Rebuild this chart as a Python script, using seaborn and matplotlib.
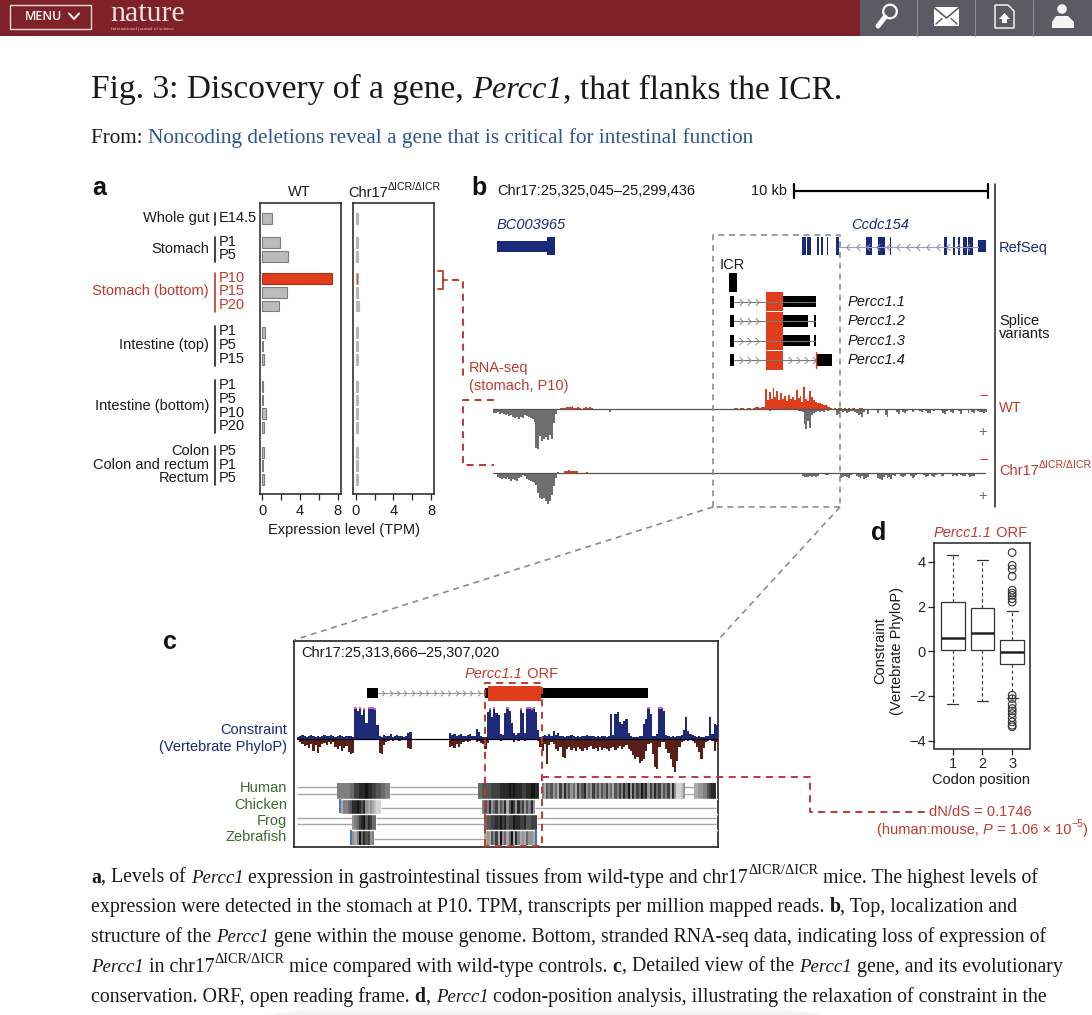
import numpy as np
import pandas as pd
import seaborn as sns
import matplotlib.pyplot as plt
from matplotlib.path import Path
from matplotlib.patches import Rectangle, Circle, Polygon

# panel a
tissues = ["Whole gut", "Stomach", "Stomach (bottom)", "Intestine (top)", "Intestine (bottom)", "Colon"]
timepoints = [["E14.5"], ["P1", "P5"], ["P10", "P15", "P20"], ["P1", "P5", "P15"],
              ["P1", "P5", "P10", "P20"], ["P5", "P1", "P5"]]
wt_tpm = [1.0, 1.85, 2.7, 7.45, 2.6, 1.75, 0.25, 0.08, 0.15, 0.03, 0.03, 0.35, 0.15, 0.15, 0.03, 0.15]
ko_tpm = [0.25, 0.25, 0.25, 0.25, 0.2, 0.3, 0.25, 0.2, 0.2, 0.2, 0.2, 0.2, 0.2, 0.2, 0.2, 0.28]
highlight = [0, 0, 0, 1, 0, 0, 0, 0, 0, 0, 0, 0, 0, 0, 0, 0]

# panel b, genome positions in kb from the left of the window
window_kb = 25.609
bc_utr = (0.21, 2.80)
bc_exon = (2.80, 3.24)
ccdc_exons = [(16.02, 16.23), (16.29, 16.47), (16.78, 16.88), (16.99, 17.12), (17.33, 17.38), (17.77, 17.94),
              (19.34, 19.48), (19.51, 19.65), (19.96, 20.10), (20.13, 20.34), (20.58, 20.65), (23.38, 23.52),
              (23.86, 23.94), (24.12, 24.21), (24.38, 24.56), (24.64, 24.90)]
ccdc_utr = (25.16, 25.54)
icr = (12.23, 12.63)
first_exon = (12.30, 12.50)
orf = (14.13, 15.01)
variant_black = [[(15.01, 16.77)], [(15.01, 16.33), (16.62, 16.77)], [(15.01, 16.41), (16.62, 16.77)], [(16.77, 17.58)]]
variant_names = ["Percc1.1", "Percc1.2", "Percc1.3", "Percc1.4"]

bin_kb = 0.1
wt_plus_a = [4, 4, 3, 5, 4, 5, 6, 5, 7, 6, 8, 9, 8, 10, 8, 9, 6, 7, 8, 9, 10, 13, 39, 40, 27, 32, 30, 28, 31, 26, 30, 14, 5]
wt_plus_b = [3]
wt_plus_c = [0, 0, 1, 2, 1, 0, 0, 0, 0, 0, 0, 0, 1, 1, 0, 1, 0, 1, 2, 2, 3, 15, 20, 12, 19, 6, 4, 3, 2, 3, 2, 3, 1, 2, 1, 1,
             0, 0, 6, 5, 2, 3, 2, 4, 3, 2, 2, 3, 4, 6, 5, 8, 3, 1, 5, 0, 1, 0, 0, 4, 1, 0, 0, 6, 8, 1, 0, 0, 0, 3, 5, 0, 3, 4,
             2, 0, 0, 3, 0, 0, 0, 2, 3, 0, 2, 4, 4, 1, 2, 0, 0, 0, 2, 4, 5, 2, 0, 3, 4, 1, 0, 2, 5, 1, 0, 0, 4, 1, 3, 4, 0, 2,
             3, 3, 4, 3]
wt_minus_a = [1, 1, 1, 2, 2, 2, 3, 1, 1, 2, 1, 0, 1, 2, 1, 2, 1]
wt_minus_b = [1, 1, 0, 1, 1, 0, 0, 1, 1, 0, 1, 2, 2, 1, 2, 2, 20, 9, 17, 10, 21, 12, 18, 9, 16, 10, 13, 8, 14, 10, 12, 9,
              19, 11, 13, 7, 22, 10, 8, 18, 12, 9, 7, 6, 6, 5, 4, 4, 3, 2, 1, 0, 1, 0, 1, 1, 0, 1, 0, 1, 0, 1, 1, 0, 0, 1, 1]
ko_plus_a = [0, 0, 4, 5, 6, 5, 6, 4, 6, 8, 6, 7, 8, 5, 4, 2, 3, 6, 7, 8, 9, 10, 12, 20, 25, 26, 25, 28, 31, 28, 22, 13, 5]
ko_plus_c = [3, 4, 4, 4, 3, 4, 3, 4, 3, 0, 0, 0, 2, 2, 0, 0, 0, 0, 0, 0, 5, 4, 3, 4, 5, 2, 0, 0, 3, 4, 5, 3, 6, 5, 4, 0, 0, 0,
             0, 5, 6, 7, 4, 2, 5, 4, 6, 2, 3, 0, 0, 3, 4, 3, 0, 0, 3, 5, 4, 2, 0, 0, 0, 2, 4, 3, 0, 3, 4, 2, 0, 0, 3, 3, 0, 0,
             0, 0, 3, 2, 3, 0, 2, 3, 3, 1, 2, 4, 3, 3]
ko_minus_a = [1, 0, 0, 0, 2, 2, 3, 2, 2, 2, 2, 0, 0, 0, 0, 1]

# panel c
window_c_kb = 6.646
c_exon = (1.14, 1.32)
c_start = (2.99, 3.04)
c_orf = (3.04, 3.87)
c_utr = (3.87, 5.55)
phylop_up = [2, 3, 4, 3, 2, 3, 4, 3, 2, 3, 2, 3, 4, 3, 3, 4, 3, 2, 3, 4, 3, 2, 3, 3, 3, 2,
             30, 28, 30, 24, 29, 16, 30, 30, 30, 29, 14,
             3, 2, 4, 3, 3, 5, 2, 3, 4, 3, 3, 2, 3, 6, 7,
             0, 0, 0, 0, 0, 0, 0, 0, 0, 0, 0, 0, 0, 0, 0, 0, 0,
             6, 4, 5, 3, 4, 5, 3, 3, 4, 5, 3, 3, 10, 7, 3, 2, 2,
             27, 29, 22, 30, 26, 24, 5, 4, 26, 30, 28, 16, 6, 4, 6, 29, 26, 6, 30, 30, 29, 30, 27, 9,
             2, 3, 4, 3, 5, 3, 8, 4, 6, 3, 3, 2, 3, 3, 4, 3, 2, 3, 2, 3, 3, 4, 3, 3, 3, 2, 3, 2, 3, 3, 2, 3,
             25, 4, 25, 27, 17, 15, 18, 20, 6, 3, 2, 2, 2, 3, 3, 15, 20, 30, 25, 3, 3, 5, 30, 30, 28,
             4, 3, 2, 3, 2, 3, 3, 4, 9, 22, 8, 5, 4, 3, 2, 3, 2, 2, 3, 3, 22, 5, 15, 14]
phylop_down = [1, 3, 5, 7, 6, 9, 5, 12, 6, 14, 8, 5, 4, 6, 3, 5, 3, 8, 10, 7, 12, 9, 7, 13, 15, 14,
               0, 0, 0, 0, 0, 0, 0, 0, 0, 0, 0,
               14, 15, 6, 3, 2, 1, 2, 1, 1, 2, 1, 1, 1, 9, 10,
               0, 0, 0, 0, 0, 0, 0, 0, 0, 0, 0, 0, 0, 0, 0, 0, 0,
               8, 7, 9, 5, 8, 5, 3, 2, 3, 2, 1, 1, 3, 2, 4, 5, 10,
               4, 1, 0, 1, 1, 0, 2, 1, 0, 0, 1, 1, 3, 1, 2, 0, 1, 2, 0, 0, 1, 0, 1, 2,
               8, 12, 5, 25, 6, 3, 5, 10, 12, 8, 18, 19,
               10, 8, 11, 9, 12, 8, 10, 12, 9, 11, 8, 7, 10, 9, 12, 8, 11, 9, 10, 12, 9, 8, 11, 9, 7, 10, 8, 6,
               10, 12, 16, 20, 18, 24, 22, 20, 12, 5, 4, 15, 28, 30, 8, 3, 3, 10,
               14, 20, 28, 33, 22, 8, 3, 2, 1, 2, 1, 2, 4, 8, 13, 20, 9, 3, 2, 1, 2, 12, 3]

# gray levels of the alignment, 0 black to 9 pale
align_rows = ["Human", "Chicken", "Frog", "Zebrafish"]
human_1 = "555555442211101122334455"
human_2 = "4433332222111101011122110011"
human_3 = "57353647261536472531646253635264735251406152403162514263527169986"
human_4 = "7766553211"
chicken_1 = "755431101316767899"
chicken_2 = "535164263517302614263516"
frog_1 = "65421031244"
frog_2 = "433221202132201122133222"
zebra_1 = "6750413265"
zebra_2 = "767352706474071576746675"

# panel d
codon_positions = ["1", "2", "3"]
whisker_low = [-2.38, -2.24, -2.09]
quartile_1 = [0.07, 0.07, -0.55]
medians = [0.61, 0.82, -0.03]
quartile_3 = [2.18, 1.94, 0.49]
whisker_high = [4.29, 4.10, 1.82]
outliers_3 = [4.41, 3.84, 3.67, 3.35, 2.73, 2.6, 2.5, 2.35, 2.2,
              -1.97, -2.12, -2.38, -2.56, -2.67, -2.79, -2.97, -3.16, -3.31, -3.38]

RED = "#c0392f"
ORANGE = "#e03d1c"
NAVY = "#1a2a7a"
GREEN = "#3b6b2d"
SANS = "Liberation Sans"
SERIF = "Liberation Serif"

sns.set_style("white")
plt.rcParams["font.family"] = SANS
W, H = 1092, 1015
fig = plt.figure(figsize=(W / 100, H / 100), dpi=100, facecolor="white")

page = fig.add_axes([0, 0, 1, 1], zorder=5)
page.set_xlim(0, W)
page.set_ylim(H, 0)
page.axis("off")
page.patch.set_alpha(0)
renderer = fig.canvas.get_renderer()


def px_axes(left, top, right, bottom, **kw):
    return fig.add_axes([left / W, 1 - bottom / H, (right - left) / W, (bottom - top) / H], **kw)


def label(x, y, s, color="#1a1a1a", size=10.5, ha="left", **kw):
    return page.text(x, y, s, color=color, fontsize=size, ha=ha, va="center", **kw)


def rich(x, y, parts, size, family=SANS, color="#1a1a1a", italic_scale=1.0):
    # one line made of roman, italic, bold and superscript runs
    for s, kind in parts:
        fs = size * (0.72 if kind == "s" else italic_scale if kind == "i" else 1)
        run = page.text(x, y, s, fontsize=fs, family=family, color=color,
                        style="italic" if kind == "i" else "normal",
                        weight="bold" if kind == "b" else "normal",
                        va="baseline", ha="left")
        if kind == "s":
            run.set_y(y - size * 0.62)
        x += run.get_window_extent(renderer).width
    return x


def dashed(xs, ys, color, lw=1.4, dash=(3.6, 2.8)):
    page.plot(xs, ys, color=color, lw=lw, ls=(0, dash), solid_capstyle="butt", dash_capstyle="butt")


def exon(ax, span, y, h, color, **kw):
    ax.broken_barh([(span[0], span[1] - span[0])], (y - h / 2, h), facecolors=color, linewidth=0, **kw)


chev_r = Path([(-0.5, 1), (0.5, 0), (-0.5, -1)], [Path.MOVETO, Path.LINETO, Path.LINETO])
chev_l = Path([(0.5, 1), (-0.5, 0), (0.5, -1)], [Path.MOVETO, Path.LINETO, Path.LINETO])


def chevrons(ax, start, stop, step, y, marker=chev_r, size=5):
    ax.plot(np.arange(start, stop, step), np.full(len(np.arange(start, stop, step)), y), ls="", marker=marker, ms=size,
            mfc="none", mec="#8a8a8a", mew=0.7)


# page furniture
page.add_patch(Rectangle((0, 0), 860, 36, fc="#7f2128", ec="none"))
page.add_patch(Rectangle((860, 0), 232, 36, fc="#5b5b63", ec="none"))
for x in (917, 975, 1033):
    page.plot([x, x], [0, 36], color="#8b8b92", lw=0.8)
page.add_patch(Rectangle((9.5, 4.5), 81, 24, fc="none", ec="#f3dcd8", lw=1))
label(25, 16.5, "MENU", "white", 9, family="Open Sans", weight="semibold")
page.plot([69, 74, 79], [13.5, 19, 13.5], color="white", lw=1.4)
label(110.5, 14, "nature", "#f6e6e0", 21.5, family=SERIF)
label(111, 29, "International journal of science", "#e6c6c0", 3.6, family=SERIF)
page.add_patch(Circle((890, 11.5), 6.8, fc="none", ec="white", lw=1.6))
page.plot([885, 878], [17, 26], color="white", lw=3.6)
page.add_patch(Rectangle((934, 7), 25, 18.5, fc="white", ec="none"))
page.plot([934, 946.5, 959], [7.5, 18, 7.5], color="#5b5b63", lw=1.2)
page.plot([936, 942], [24, 18.5], color="#5b5b63", lw=1)
page.plot([957, 951], [24, 18.5], color="#5b5b63", lw=1)
page.add_patch(Polygon([(995, 5), (1008, 5), (1014, 11), (1014, 28), (995, 28)], closed=True, fc="none", ec="white", lw=1))
page.add_patch(Polygon([(1004.5, 13), (1010, 19), (1007, 19), (1007, 23), (1002, 23), (1002, 19), (999, 19)], closed=True, fc="white", ec="none"))
page.add_patch(Circle((1062, 9), 4.8, fc="#f4f4f4", ec="none"))
page.add_patch(Polygon([(1052, 28), (1052, 22), (1056, 16), (1068, 16), (1074, 22), (1074, 28)], closed=True, fc="#f4f4f4", ec="none"))
for k in range(7):
    page.add_patch(Rectangle((270 + 6 * (6 - k), 1008 + k), 550 - 12 * (6 - k), 1, fc="#000000", alpha=0.008 * (k + 1), ec="none"))

rich(91, 98, [("Fig. 3: Discovery of a gene, ", ""), ("Percc1", "i"), (", that flanks the ICR.", "")], 24.1, SERIF, italic_scale=0.97)
end = rich(91, 143, [("From: ", "")], 15.3, SERIF)
rich(end, 143, [("Noncoding deletions reveal a gene that is critical for intestinal function", "")], 15.3, SERIF, "#2e5590")

para = [
    [("a", "b"), (", Levels of ", ""), ("Percc1", "i"), (" expression in gastrointestinal tissues from wild-type and chr17", ""),
     ("\u0394ICR/\u0394ICR", "s"), (" mice. The highest levels of", "")],
    [("expression were detected in the stomach at P10. TPM, transcripts per million mapped reads. ", ""), ("b", "b"),
     (", Top, localization and", "")],
    [("structure of the ", ""), ("Percc1", "i"), (" gene within the mouse genome. Bottom, stranded RNA-seq data, indicating loss of expression of", "")],
    [("Percc1", "i"), (" in chr17", ""), ("\u0394ICR/\u0394ICR", "s"), (" mice compared with wild-type controls. ", ""), ("c", "b"),
     (", Detailed view of the ", ""), ("Percc1", "i"), (" gene, and its evolutionary", "")],
    [("conservation. ORF, open reading frame. ", ""), ("d", "b"), (", ", ""), ("Percc1", "i"),
     (" codon-position analysis, illustrating the relaxation of constraint in the", "")],
]
for y, line in zip((883, 912, 942, 972, 1002), para):
    rich(91, y, line, 14.3, SERIF, italic_scale=0.95)

# panel a
row_y = []
y = 218.7
gaps = [24.0, 22.3, 26.3, 26.7, 24.7]
for g, names in enumerate(timepoints):
    for _ in names:
        row_y.append(y)
        y += 13.67
    if g < len(gaps):
        y += gaps[g] - 13.67
expr = pd.DataFrame({"y": row_y, "WT": wt_tpm, "KO": ko_tpm, "hot": highlight})

for col, box, zero_px, edge in (("WT", (260, 203, 341, 494), 262.3, "#7d7d7d"), ("KO", (353.3, 203, 433.5, 494), 355.7, "#b4b4b4")):
    ax = px_axes(*box)
    sns.barplot(data=expr, x=col, y="y", hue="hot", orient="y", native_scale=True, dodge=False, palette=["#bcbcbc", ORANGE],
                edgecolor=edge, linewidth=0.8, legend=False, ax=ax, width=0.8, saturation=1)
    for bar in ax.patches:
        if bar.get_width() > 5:
            bar.set_edgecolor("#a8321c")
    ax.set_xlim((box[0] - zero_px) / 9.42, (box[2] - zero_px) / 9.42)
    ax.set_ylim(box[3], box[1])
    ax.set_xticks([0, 2, 4, 6, 8], ["0", "", "4", "", "8"], fontsize=10.5, color="#1a1a1a")
    ax.set_yticks([])
    ax.set_xlabel("")
    ax.set_ylabel("")
    ax.tick_params(axis="x", length=4, width=0.9, color="#222", pad=3, bottom=True)
    for s in ax.spines.values():
        s.set_linewidth(1.1)
        s.set_color("#222")

label(299, 192, "WT", ha="center")
rich(348, 197, [("Chr17", ""), ("\u0394ICR/\u0394ICR", "s")], 10.5)
label(343.5, 530, "Expression level (TPM)", ha="center")
page.text(92, 188, "a", fontsize=18, weight="bold", va="center", color="#111")

i = 0
for g, (tissue, names) in enumerate(zip(tissues, timepoints)):
    ys = expr["y"].values[i:i + len(names)]
    color = RED if tissue == "Stomach (bottom)" else "#1a1a1a"
    page.plot([214.5, 214.5], [ys[0] - 6, ys[-1] + 6], color=color if color == RED else "#222", lw=1.2)
    for yy, name in zip(ys, names):
        label(219, yy - 1, name, color)
    if tissue == "Colon":
        for yy, t in zip(ys, ["Colon", "Colon and rectum", "Rectum"]):
            label(209, yy - 1, t, ha="right")
    else:
        label(209, ys.mean() - 1, tissue, color, ha="right")
    i += len(names)

# panel b genes
genes = px_axes(493, 215, 987, 372)
genes.set_xlim(0, window_kb)
genes.set_ylim(372, 215)
genes.axis("off")
exon(genes, bc_utr, 246, 11, NAVY)
exon(genes, bc_exon, 246, 18, NAVY)
genes.plot([17.94, 25.16], [246.5, 246.5], color="#9aa0c4", lw=0.8)
chevrons(genes, 18.4, 25.0, 0.52, 246.5, chev_l, 5)
for span in ccdc_exons:
    exon(genes, span, 246, 18, NAVY)
exon(genes, ccdc_utr, 246, 12, NAVY)
exon(genes, icr, 282.5, 19, "black")
for row, (yy, blacks) in enumerate(zip((301.7, 321, 340.7, 360), variant_black)):
    genes.plot([first_exon[1], 16.7], [yy, yy], color="#777", lw=0.8)
    exon(genes, first_exon, yy, 12, "black")
    chevrons(genes, 12.85, 14.1, 0.42, yy)
    for span in blacks:
        exon(genes, span, yy, 11.5, "black")
    if row == 3:
        chevrons(genes, 15.4, 16.7, 0.42, yy)
        genes.plot([16.75, 16.75], [yy - 8, yy + 8], color=ORANGE, lw=1)
    exon(genes, orf, yy, 19, ORANGE)
    page.text(848, yy, variant_names[row], fontsize=10.5, style="italic", va="center", color="#1a1a1a")


def track(ax_box, plus, minus):
    ax = px_axes(*ax_box[:4])
    base = ax_box[4]
    ax.set_xlim(0, window_kb)
    ax.set_ylim(-(ax_box[3] - base), base - ax_box[1])
    ax.axis("off")
    for start, vals in plus:
        ax.bar(start + np.arange(len(vals)) * bin_kb, -np.array(vals), width=bin_kb, align="edge", color="#6e6e6e", linewidth=0)
    for start, vals in minus:
        ax.bar(start + np.arange(len(vals)) * bin_kb, vals, width=bin_kb, align="edge", color=ORANGE, linewidth=0)
    ax.plot([0, window_kb - 0.1], [0, 0], color="#555", lw=0.9)


track((493, 382, 987, 452, 408.7), [(0.0, wt_plus_a), (6.0, wt_plus_b), (14.0, wt_plus_c)], [(3.47, wt_minus_a), (12.49, wt_minus_b)])
track((493, 450, 987, 512, 473.3), [(0.0, ko_plus_a), (16.0, ko_plus_c)], [(3.3, ko_minus_a)])

label(497, 191, "Chr17:25,325,045\u201325,299,436")
label(787, 190.5, "10 kb", ha="right")
scale = page.plot([794, 988], [191, 191], color="black", lw=1.6)
page.plot([794, 794], [184, 198], color="black", lw=1.6)
page.plot([988, 988], [184, 198], color="black", lw=1.6)
page.plot([995, 995], [184, 507], color="#222", lw=1.1)
page.text(471, 188, "b", fontsize=18, weight="bold", va="center", color="#111")
label(497, 225, "BC003965", NAVY, style="italic")
label(851, 225, "Ccdc154", NAVY, style="italic")
label(720, 265, "ICR")
label(999, 248, "RefSeq", NAVY)
label(999, 321, "Splice")
label(999, 334.5, "variants")
label(999, 408, "WT", RED)
rich(999, 475, [("Chr17", ""), ("\u0394ICR/\u0394ICR", "s")], 10.5, color=RED)
for yy, s, c in ((395.7, "\u2212", RED), (431.7, "+", "#666"), (459.7, "\u2212", RED), (495.7, "+", "#666")):
    label(983, yy, s, c, ha="center")
label(469, 368, "RNA-seq", RED)
label(469, 386, "(stomach, P10)", RED)

GRAY_DASH = "#8c8c8c"
dashed([713, 713, 840, 840], [507, 234.5, 234.5, 507], GRAY_DASH, 1.2)
dashed([840, 713], [507, 507], GRAY_DASH, 1.2)
dashed([713, 294], [507, 640], GRAY_DASH, 1.2)
dashed([840, 718], [507, 640], GRAY_DASH, 1.2)

page.plot([438, 443, 443, 438], [271, 271, 289, 289], color=RED, lw=1.3)
page.plot([443, 447], [280, 280], color=RED, lw=1.3)
dashed([452, 463, 463], [280, 280, 376], RED)
dashed([494, 463, 463, 494], [400, 400, 465, 465], RED)

# panel c
c_ax = px_axes(294, 641, 718, 847)
c_ax.set_xlim(0, window_c_kb)
c_ax.set_ylim(847, 641)
c_ax.set_xticks([])
c_ax.set_yticks([])
for s in c_ax.spines.values():
    s.set_linewidth(1.2)
    s.set_color("#222")
c_ax.plot([c_exon[1], c_start[0]], [693, 693], color="#999", lw=0.8)
chevrons(c_ax, 1.4, 2.95, 0.115, 693, size=4)
exon(c_ax, c_exon, 693, 9.5, "black")
exon(c_ax, c_start, 693, 9.5, "black")
exon(c_ax, c_orf, 693, 15, ORANGE)
exon(c_ax, c_utr, 693, 9.5, "black")

phy = px_axes(297, 705, 718, 780)
phy.set_xlim(0, len(phylop_up))
phy.set_ylim(-41, 34)
phy.axis("off")
bins = np.arange(len(phylop_up))
phy.bar(bins, phylop_up, width=1, align="edge", color="#1e2a78", linewidth=0)
phy.bar(bins, -np.array(phylop_down), width=1, align="edge", color="#5a1f18", linewidth=0)
up = np.array(phylop_up)
phy.bar(bins[up >= 29], np.full((up >= 29).sum(), 2), bottom=up[up >= 29], width=1, align="edge", color="#d45fd8", linewidth=0)
phy.plot([0, len(phylop_up)], [0, 0], color="black", lw=0.9)

n_cols = len(phylop_up)
matrix = np.full((4, n_cols), np.nan)
segments = [(0, 18, human_1), (0, 82, human_2), (0, 111, human_3), (0, 180, human_4),
            (1, 20, chicken_1), (1, 84, chicken_2),
            (2, 25, frog_1), (2, 85, frog_2),
            (3, 25, zebra_1), (3, 85, zebra_2)]
for row, col, digits in segments:
    matrix[row, col:col + len(digits)] = [int(d) for d in digits]
align = px_axes(297, 783, 718, 845)
sns.heatmap(pd.DataFrame(matrix, index=align_rows), cmap="gray", vmin=-1, vmax=11, cbar=False, xticklabels=False,
            yticklabels=False, ax=align)
align.patch.set_alpha(0)
for yy, a, b in ((0.28, 0, 18), (0.7, 0, 18), (0.28, 42, 82), (0.7, 42, 82), (0.28, 175, 180), (0.7, 175, 180),
                 (1.63, 38, 84), (1.63, 108, 190), (2.29, 0, 25), (2.65, 0, 25), (2.29, 36, 85), (2.65, 36, 85),
                 (2.29, 109, 190), (2.65, 109, 190), (3.62, 35, 85)):
    align.hlines(yy, a, b, color="#a8a8a8", lw=1, zorder=-1)
align.hlines([1, 2, 3], 0, n_cols, color="white", lw=1)
align.vlines(19.7, 1.05, 1.95, color="#3a78c8", lw=1.4)
align.vlines(24.4, 3.05, 3.98, color="#3a78c8", lw=1.4)
align.vlines(108.5, 3.05, 3.98, color="#3a78c8", lw=1.4)

label(301, 653, "Chr17:25,313,666\u201325,307,020")
rich(465, 678, [("Percc1.1", "i"), (" ORF", "")], 10.5, color=RED)
label(287, 730, "Constraint", NAVY, ha="right")
label(287, 747, "(Vertebrate PhyloP)", NAVY, ha="right")
for yy, s in zip((788, 805, 821, 837), align_rows):
    label(287, yy, s, GREEN, ha="right")
page.text(163, 642, "c", fontsize=18, weight="bold", va="center", color="#111")
dashed([484.5, 484.5, 541.5, 541.5, 484.5], [846, 683, 683, 846, 846], RED)
dashed([541.5, 810, 810, 925], [777, 777, 812, 812], RED)

# panel d
box_df = pd.DataFrame({
    "pos": np.repeat(codon_positions, 5),
    "value": np.column_stack([whisker_low, quartile_1, medians, quartile_3, whisker_high]).ravel(),
})
d_ax = px_axes(934, 543, 1030, 748.5)
sns.boxplot(data=box_df, x="pos", y="value", whis=(0, 100), width=0.8, color="white", linecolor="#333", linewidth=0.9,
            fliersize=0, ax=d_ax, medianprops={"linewidth": 1.8, "color": "#222"},
            whiskerprops={"linestyle": (0, (3, 2.5)), "linewidth": 0.8}, capprops={"linewidth": 0.9}, capwidths=0.38)
d_ax.scatter(np.full(len(outliers_3), 2), outliers_3, s=30, facecolors="none", edgecolors="#333", linewidths=0.8, zorder=4)
d_ax.set_xlim(-0.63, 2.6)
d_ax.set_ylim(-4.35, 4.84)
d_ax.set_yticks([-4, -2, 0, 2, 4], ["\u22124", "\u22122", "0", "2", "4"], fontsize=10.5)
d_ax.set_xticks([0, 1, 2], codon_positions, fontsize=10.5)
d_ax.set_xlabel("")
d_ax.set_ylabel("")
d_ax.tick_params(length=4, width=0.9, color="#222", bottom=True, left=True, pad=2)
for s in d_ax.spines.values():
    s.set_linewidth(1.1)
    s.set_color("#222")
page.text(871, 533, "d", fontsize=18, weight="bold", va="center", color="#111")
rich(934, 537, [("Percc1.1", "i"), (" ORF", "")], 10.5, color=RED)
page.text(880, 651, "Constraint", fontsize=10.5, rotation=90, ha="center", va="center", color="#1a1a1a")
page.text(897, 651, "(Vertebrate PhyloP)", fontsize=10.5, rotation=90, ha="center", va="center", color="#1a1a1a")
label(981, 780, "Codon position", ha="center")
label(929, 812, "dN/dS = 0.1746", RED)
rich(877, 834, [("(human:mouse, ", ""), ("P", "i"), (" = 1.06 \u00d7 10", ""), ("\u22125", "s"), (")", "")], 10.5, color=RED)

fig.savefig("out.png", dpi=100)
